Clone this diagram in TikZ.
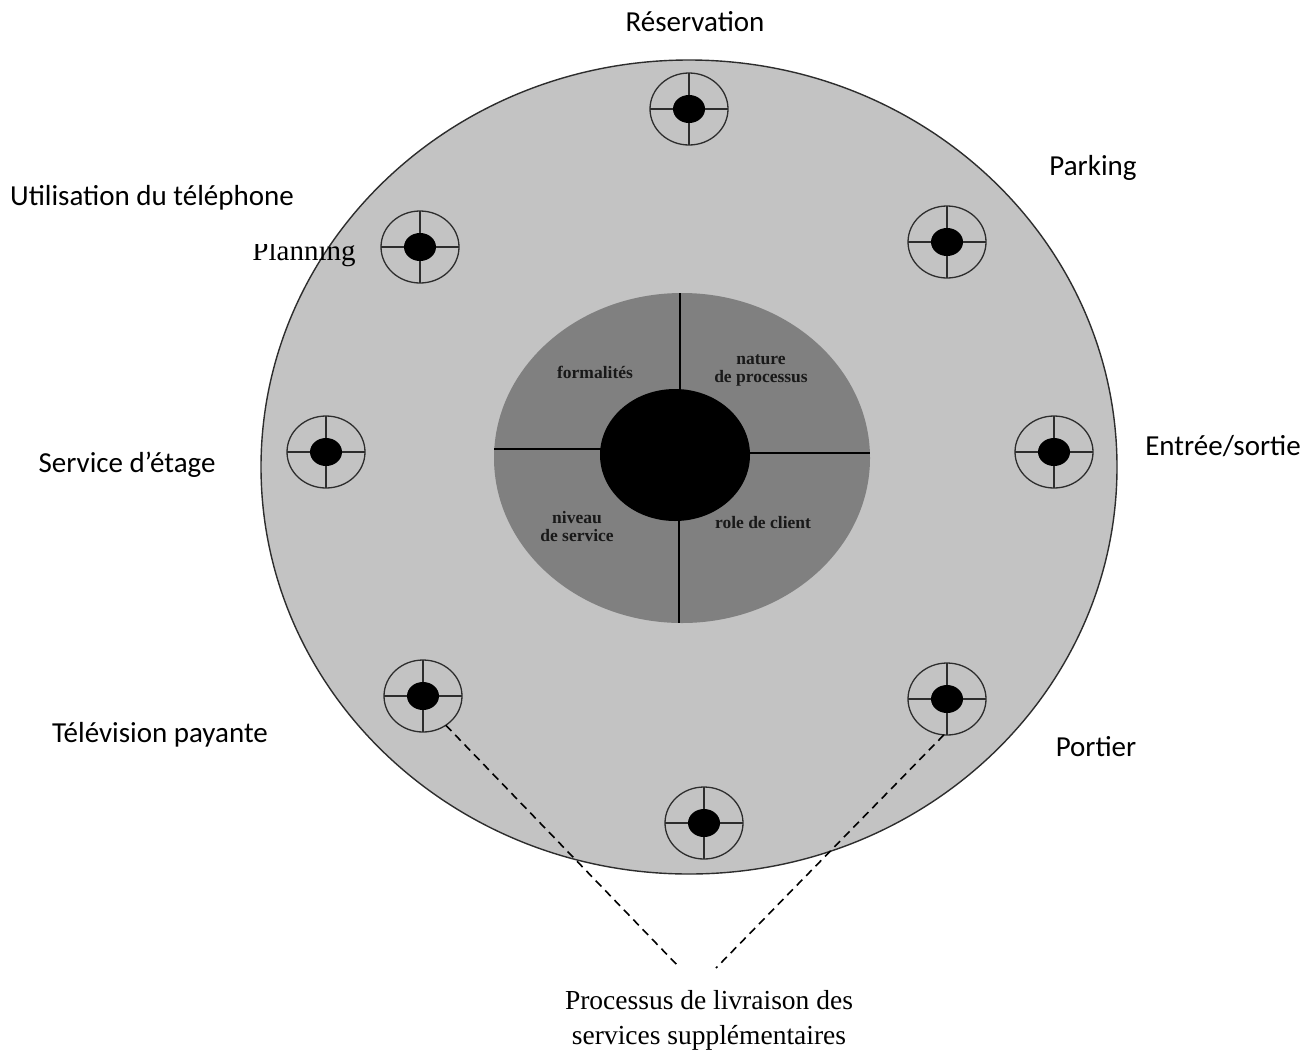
\documentclass[tikz,border=0pt]{standalone}
\usepackage{fontspec}
\setmainfont{Liberation Serif}
\newfontfamily\calib{Carlito}
\usetikzlibrary{shapes.geometric}
\definecolor{ringgray}{RGB}{195,195,195}
\definecolor{coregray}{RGB}{128,128,128}
\definecolor{edgegray}{RGB}{45,45,45}
\definecolor{inktext}{RGB}{25,25,25}
\begin{document}
\begin{tikzpicture}[x=1bp,y=-1bp,
  target/.style={ellipse, draw=edgegray, line width=1.3bp,
    minimum width=78bp, minimum height=72bp, inner sep=0pt, outer sep=0pt,
    path picture={
      \draw[edgegray, line width=1.3bp]
        (path picture bounding box.north) -- (path picture bounding box.south)
        (path picture bounding box.west) -- (path picture bounding box.east);
      \fill[black] (path picture bounding box.center)
        ellipse [x radius=16bp, y radius=14bp];
    }},
  lab/.style={font=\calib\fontsize{29bp}{34bp}\selectfont, inner sep=0pt, anchor=base},
  serifl/.style={font=\fontsize{27.5bp}{35bp}\selectfont, inner sep=0pt, align=center},
  core/.style={font=\bfseries\fontsize{17.5bp}{18bp}\selectfont, text=inktext,
    inner sep=0pt, align=center},
  link/.style={draw=black, line width=1.6bp, dash pattern=on 8bp off 5.5bp}
]
\useasboundingbox (0,0) rectangle (1314,1051);
\fill[white] (0,0) rectangle (1314,1051);

% outer ring of supplementary services
\filldraw[fill=ringgray, draw=edgegray, line width=1.4bp]
  (689,467) ellipse [x radius=428, y radius=407];

% core of the service
\fill[coregray] (682,458) ellipse [x radius=188, y radius=165];
\draw[black, line width=1.3bp] (680,293) -- (680,390);
\draw[black, line width=1.3bp] (494,449) -- (602,449);
\draw[black, line width=1.3bp] (748,453) -- (870,453);
\draw[black, line width=1.3bp] (679,519) -- (679,623);
\fill[black] (675,455) ellipse [x radius=75, y radius=66];

\node[core] (form) at (595,372) {formalités};
\node[core] (nat) at (761,370) {nature\\de processus};
\node[core] (niv) at (577,527) {niveau\\de service};
\node[core] (role) at (763,523) {role de client};

% delivery points
\node[target] (resv) at (689,109) {};
\node[target] (park) at (947,242) {};
\node[target] (plan) at (420,247) {};
\node[target] (etage) at (326,452) {};
\node[target] (entree) at (1054,452) {};
\node[target] (tv) at (423,696) {};
\node[target] (port) at (947,699) {};
\node[target] (bas) at (704,823) {};

% labels
\node[lab] (lresv) at (695,31) {Réservation};
\node[lab] (lpark) at (1093,175) {Parking};
\node[lab] (ltel) at (152,205) {Utilisation du téléphone};
\begin{scope}
  \clip (230,244) rectangle (380,280);
  \node[font=\fontsize{29bp}{35bp}\selectfont, inner sep=0pt, anchor=base]
    (lplan) at (304,260) {Planning};
\end{scope}
\node[lab] (letage) at (127,472) {Service d’étage};
\node[lab] (lentree) at (1223,455) {Entrée/sortie};
\node[lab] (ltv) at (160,742) {Télévision payante};
\node[lab] (lport) at (1096,756) {Portier};

% bottom caption with its dashed leaders
\node[serifl] (proc) at (709,1020) {Processus de livraison des\\services supplémentaires};
\coordinate (dl) at (680,968);
\coordinate (dr) at (716,968);
\draw[link] (tv.-52) -- (dl);
\draw[link] (port.-95) -- (dr);
\end{tikzpicture}
\end{document}
